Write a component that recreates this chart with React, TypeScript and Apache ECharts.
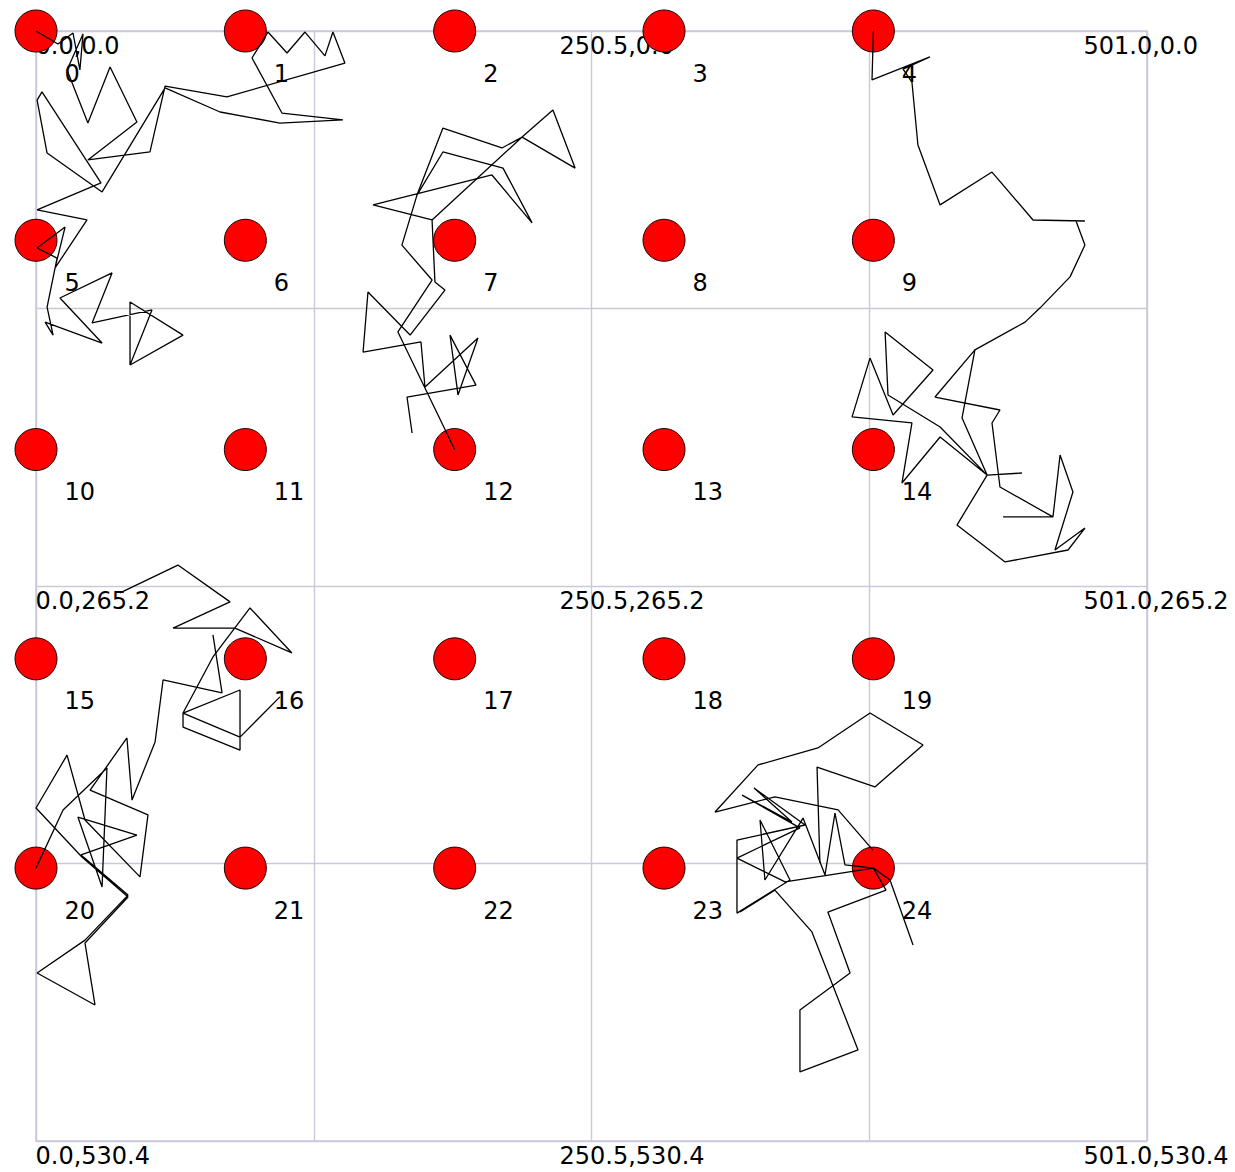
import React, { useEffect, useRef } from "react";
import * as echarts from "echarts";

// Coordinate space shown by the corner labels
const X_MAX = 501.0;
const Y_MAX = 530.4;
const gridXTicks = [0, 125.25, 250.5, 375.75, 501.0];
const gridYTicks = [0, 132.6, 265.2, 397.8, 530.4];

// Corner coordinate labels
const cornerX = [0, 250.5, 501.0];
const cornerY = [0, 265.2, 530.4];

// Red node positions (5 x 5 lattice)
const nodeX = [0, 94.4, 188.8, 283.2, 377.6];
const nodeY = [0, 100, 200, 300, 400];

// Random-walk traces (x, y in chart coordinates)
const walkA = [
  [0, 0], [9.9, 6.2], [16.7, 1.0], [19.8, 18.6], [21.2, 1.4], [14.0, 18.6], [23.4, 44.0], [33.4, 17.2],
  [45.5, 43.5], [23.4, 61.6], [51.4, 57.8], [58.2, 26.3], [86.1, 31.5], [139.3, 15.3], [133.9, 0.5],
  [130.3, 11.9], [121.3, 0.5], [113.2, 10.5], [104.6, 0.5], [97.4, 12.9], [110.9, 39.2], [138.4, 42.5],
  [110.0, 44.0], [83.0, 38.7], [58.2, 27.2], [29.8, 76.9], [5.0, 58.3], [0.5, 33.0], [2.7, 29.1],
  [29.3, 72.6], [0.5, 85.5], [23.0, 90.3], [8.6, 113.2], [13.1, 93.7], [0.5, 103.7], [9.5, 108.5],
  [5.0, 131.9], [7.7, 145.3], [4.1, 139.1], [29.8, 149.1], [10.8, 127.6], [34.3, 115.6], [25.3, 139.5],
  [52.3, 133.3], [42.4, 159.6], [42.4, 129.5], [66.3, 145.3], [42.4, 159.6],
];

const walkB = [
  [169.6, 192.1], [167.3, 174.9], [198.4, 169.2], [186.7, 145.3], [190.3, 173.9], [199.3, 146.7],
  [175.4, 170.1], [173.6, 148.6], [147.5, 153.4], [149.7, 124.7], [168.7, 145.3], [184.4, 123.8],
  [179.9, 119.9], [178.6, 90.3], [152.0, 83.1], [205.6, 68.8], [223.7, 91.7], [210.6, 65.5],
  [183.5, 57.8], [171.8, 78.4], [165.0, 102.3], [178.6, 119.0], [163.2, 143.8], [188.8, 200.0],
];

const walkB2 = [
  [171.8, 78.4], [183.5, 46.4], [210.1, 55.9], [219.2, 50.7], [233.1, 37.7], [243.1, 65.5],
  [219.2, 50.7], [178.6, 90.3],
];

const walkC = [
  [377.6, 0], [377.0, 23.4], [403.1, 12.4], [391.0, 18.2], [395.0, 24.4], [397.7, 54.5], [407.7, 83.1],
  [431.1, 67.4], [449.6, 90.3], [473.0, 90.8], [469.0, 90.8], [473.0, 102.3], [466.3, 117.5],
  [452.7, 132.4], [446.0, 139.1], [423.4, 152.4], [417.6, 184.9], [428.9, 212.2], [444.6, 211.2],
  [428.9, 212.2], [407.7, 189.2], [384.2, 173.9], [382.9, 143.8], [404.5, 162.0], [386.5, 183.5],
  [376.1, 156.3], [368.0, 184.4], [395.0, 187.3], [390.5, 216.0], [407.7, 194.0], [428.9, 212.2],
  [415.3, 236.1], [437.0, 253.7], [465.4, 248.0], [473.0, 237.5], [459.5, 248.0], [467.6, 220.3],
  [461.8, 202.6], [458.6, 232.2], [436.1, 232.2], [458.6, 232.2], [434.7, 217.9], [431.1, 187.3],
  [434.7, 181.1], [405.4, 174.9], [423.4, 152.4],
];

const walkD = [
  [37.9, 268.5], [64.0, 255.2], [87.5, 272.8], [61.8, 285.3], [89.7, 285.3], [115.4, 297.2],
  [96.5, 275.7], [79.8, 299.1], [66.3, 325.9], [92.0, 314.9], [92.0, 343.6], [66.3, 332.6],
  [66.3, 325.9], [92.0, 337.4], [110.0, 318.2],
];

const walkD2 = [
  [79.8, 288.6], [83.9, 316.3], [57.3, 310.1], [53.7, 339.7], [43.3, 367.5], [41.0, 337.8],
  [24.4, 362.7], [50.5, 374.6], [46.9, 404.2], [22.1, 377.0], [14.0, 346.0], [0, 371.3],
  [20.7, 394.7], [41.5, 413.8], [22.1, 435.8], [26.6, 465.4], [0.5, 450.1], [22.1, 434.4],
  [41.5, 412.9], [20.3, 393.7], [45.5, 384.2], [18.9, 375.6], [29.8, 409.0], [32.0, 352.2],
  [12.2, 372.2], [0, 400],
];

const walkE = [
  [395.5, 436.7], [385.1, 405.7], [377.6, 400], [337.8, 406.6], [316.1, 395.2], [344.5, 380.8],
  [318.4, 365.1], [340.9, 378.0], [323.8, 361.7], [346.8, 379.4], [316.1, 386.6], [316.1, 421.5],
  [340.0, 405.7], [326.5, 377.0], [328.7, 405.7], [345.9, 376.1], [355.8, 403.3], [360.3, 373.7],
  [364.8, 398.5], [377.6, 400], [383.3, 410.5], [357.1, 421.0], [367.1, 450.1], [344.5, 467.8],
  [344.5, 497.4], [370.7, 486.9], [349.9, 430.5], [333.2, 410.5], [317.5, 421.0],
];

const walkE2 = [
  [377.4, 391.4], [361.7, 372.2], [333.2, 366.0], [306.2, 373.2], [325.6, 350.7], [352.6, 342.6],
  [376.1, 325.9], [400.0, 341.2], [378.3, 361.2], [352.2, 351.7], [353.5, 397.6],
];

const walks = [walkA, walkB, walkB2, walkC, walkD, walkD2, walkE, walkE2];

const FONT = "DejaVu Sans";

export default function App() {
  const ref = useRef<HTMLDivElement>(null);

  useEffect(() => {
    const chart = echarts.init(ref.current as HTMLDivElement, null, { renderer: "svg" });

    const nodes: any[] = [];
    nodeY.forEach((y) => nodeX.forEach((x) => nodes.push([x, y])));

    const corners: any[] = [];
    cornerY.forEach((y) =>
      cornerX.forEach((x, ci) =>
        corners.push({
          value: [x, y],
          label: { offset: [-31.5 * ci, 0] },
        })
      )
    );

    const lineSeries = walks.map((w) => ({
      type: "line",
      data: w,
      symbol: "none",
      showSymbol: false,
      clip: false,
      silent: true,
      z: 5,
      lineStyle: { color: "#000", width: 1.3, opacity: 1 },
    }));

    const option: any = {
      animation: false,
      backgroundColor: "#ffffff",
      grid: {
        left: 36,
        top: 31,
        width: 1111,
        height: 1110,
        show: true,
        borderColor: "#c9c9dc",
        borderWidth: 1.6,
        backgroundColor: "transparent",
      },
      xAxis: {
        type: "value",
        min: 0,
        max: X_MAX,
        interval: gridXTicks[1],
        axisLine: { show: false },
        axisTick: { show: false },
        axisLabel: { show: false },
        splitLine: { show: true, lineStyle: { color: "#c9c9dc", width: 1.4 } },
      },
      yAxis: {
        type: "value",
        inverse: true,
        min: 0,
        max: Y_MAX,
        interval: gridYTicks[1],
        axisLine: { show: false },
        axisTick: { show: false },
        axisLabel: { show: false },
        splitLine: { show: true, lineStyle: { color: "#c9c9dc", width: 1.4 } },
      },
      series: [
        {
          type: "scatter",
          data: corners,
          symbolSize: 1,
          clip: false,
          silent: true,
          z: 1,
          itemStyle: { color: "rgba(0,0,0,0)", opacity: 1 },
          label: {
            show: true,
            position: [0, 15],
            align: "left",
            verticalAlign: "middle",
            fontFamily: FONT,
            fontSize: 24,
            color: "#000",
            opacity: 1,
            formatter: (p: any) => `${p.value[0].toFixed(1)},${p.value[1].toFixed(1)}`,
          },
        },
        {
          type: "scatter",
          data: nodes,
          symbolSize: 42,
          clip: false,
          silent: true,
          z: 2,
          itemStyle: { color: "#ff0000", borderColor: "#1a0000", borderWidth: 1, opacity: 1 },
          label: {
            show: true,
            position: [50, 64],
            align: "left",
            verticalAlign: "middle",
            fontFamily: FONT,
            fontSize: 24,
            color: "#000",
            opacity: 1,
            formatter: (p: any) => String(p.dataIndex),
          },
        },
        ...lineSeries,
      ],
    };

    chart.setOption(option);
    return () => chart.dispose();
  }, []);

  return (
    <div
      ref={ref}
      style={{ position: "fixed", left: 0, top: 0, width: 1235, height: 1172, background: "#fff" }}
    />
  );
}
